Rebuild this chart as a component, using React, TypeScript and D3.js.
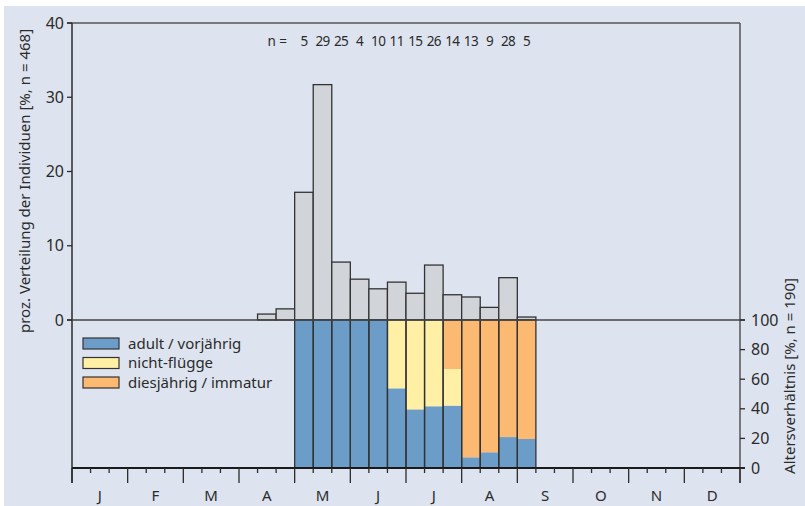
import { scaleLinear, stack } from "d3";

// month initials along the bottom axis, each month split into three decades
const months = ["J", "F", "M", "A", "M", "J", "J", "A", "S", "O", "N", "D"];

// upper histogram: % of individuals per decade, starting at April decade 2
const histStart = 10;
const pctIndividuals = [
  0.8, 1.5, 17.2, 31.7, 7.8, 5.5, 4.2, 5.1, 3.6, 7.4, 3.4, 3.1, 1.7, 5.7, 0.4,
];

// lower age ratio: starts at May decade 1
const ageStart = 12;
const nCounts = [5, 29, 25, 4, 10, 11, 15, 26, 14, 13, 9, 28, 5];
const adultPct = [100, 100, 100, 100, 100, 53.8, 39.6, 41.7, 42.1, 7.2, 10.6, 20.9, 19.6];
const fledglingPct = [0, 0, 0, 0, 0, 46.2, 60.4, 58.3, 24.8, 0, 0, 0, 0];
const juvenilePct = [0, 0, 0, 0, 0, 0, 0, 0, 33.1, 92.8, 89.4, 79.1, 80.4];

const leftTicks = [0, 10, 20, 30, 40];
const rightTicks = [0, 20, 40, 60, 80, 100];

const legendItems = [
  { key: "adult", label: "adult / vorjährig", color: "#6b9dc8" },
  { key: "fledgling", label: "nicht-flügge", color: "#fff0a5" },
  { key: "juvenile", label: "diesjährig / immatur", color: "#fbb971" },
];

const font = "'Noto Sans', sans-serif";
const ink = "#2b2b2b";

const App = () => {
  const width = 805;
  const height = 506;
  const left = 72;
  const right = 740;
  const top = 23;
  const zeroY = 320;
  const bottom = 468;

  const x = scaleLinear().domain([0, 36]).range([left, right]);
  const yTop = scaleLinear().domain([0, 40]).range([zeroY, top]);
  const yAge = scaleLinear().domain([0, 100]).range([bottom, zeroY]);

  const ageRows = nCounts.map((n, i) => ({
    idx: ageStart + i,
    n,
    adult: adultPct[i],
    fledgling: fledglingPct[i],
    juvenile: juvenilePct[i],
  }));
  const series = stack<any>().keys(legendItems.map((d) => d.key))(ageRows);

  const decadeTicks = Array.from({ length: 37 }, (_, i) => i);

  return (
    <svg
      width={width}
      height={height}
      style={{ position: "absolute", left: 0, top: 0 }}
      fontFamily={font}
    >
      <rect x={4} y={6} width={width - 4} height={height - 6} fill="#dde4ef" />

      {/* upper histogram */}
      {pctIndividuals.map((v, i) => (
        <rect
          key={`h-${i}`}
          x={x(histStart + i)}
          y={yTop(v)}
          width={x(1) - x(0)}
          height={zeroY - yTop(v)}
          fill="#d1d5da"
          stroke="#333"
          strokeWidth={1.3}
        />
      ))}

      {/* lower stacked age ratio */}
      {series.map((s, si) =>
        s.map((d: any, i: number) => (
          <rect
            key={`a-${si}-${i}`}
            x={x(d.data.idx)}
            y={yAge(d[1])}
            width={x(1) - x(0)}
            height={Math.max(0, yAge(d[0]) - yAge(d[1]))}
            fill={legendItems[si].color}
          />
        ))
      )}
      {ageRows.map((d) => (
        <rect
          key={`o-${d.idx}`}
          x={x(d.idx)}
          y={zeroY}
          width={x(1) - x(0)}
          height={bottom - zeroY}
          fill="none"
          stroke="#333"
          strokeWidth={1.3}
        />
      ))}

      {/* n labels */}
      <text x={287} y={46} fontSize={13.5} textAnchor="end" fill={ink}>
        n =
      </text>
      {ageRows.map((d) => (
        <text
          key={`n-${d.idx}`}
          x={x(d.idx + 0.5)}
          y={46}
          fontSize={13.5}
          textAnchor="middle"
          fill={ink}
          letterSpacing={-0.6}
        >
          {d.n}
        </text>
      ))}

      {/* frame lines */}
      <line x1={left - 5} x2={right} y1={top} y2={top} stroke="#555" strokeWidth={1.5} />
      <line x1={left} x2={left} y1={top} y2={483} stroke={ink} strokeWidth={1.5} />
      <line x1={right} x2={right} y1={top} y2={483} stroke="#555" strokeWidth={1.5} />
      <line x1={left - 5} x2={right + 5} y1={zeroY} y2={zeroY} stroke="#444" strokeWidth={1.3} />
      <line x1={left} x2={right + 5} y1={bottom} y2={bottom} stroke="#1a1a1a" strokeWidth={2.2} />

      {/* left axis */}
      {leftTicks.map((t) => (
        <g key={`lt-${t}`}>
          <line x1={left - 5} x2={left} y1={yTop(t)} y2={yTop(t)} stroke={ink} strokeWidth={1.3} />
          <text
            x={left - 8}
            y={yTop(t)}
            dy="0.35em"
            textAnchor="end"
            fontSize={16}
            fill={ink}
          >
            {t}
          </text>
        </g>
      ))}
      <text
        transform={`translate(30, 181) rotate(-90)`}
        textAnchor="middle"
        fontSize={15}
        fill={ink}
      >
        proz. Verteilung der Individuen [%, n = 468]
      </text>

      {/* right axis */}
      {rightTicks.map((t) => (
        <g key={`rt-${t}`}>
          <line x1={right} x2={right + 5} y1={yAge(t)} y2={yAge(t)} stroke={ink} strokeWidth={1.3} />
          <text
            x={right + 11}
            y={yAge(t)}
            dy="0.35em"
            textAnchor="start"
            fontSize={16}
            fill={ink}
          >
            {t}
          </text>
        </g>
      ))}
      <text
        transform={`translate(795, 376) rotate(-90)`}
        textAnchor="middle"
        fontSize={15}
        fill={ink}
      >
        Altersverhältnis [%, n = 190]
      </text>

      {/* bottom axis */}
      {decadeTicks.map((t) => (
        <line
          key={`bt-${t}`}
          x1={x(t)}
          x2={x(t)}
          y1={bottom}
          y2={t % 3 === 0 ? 483 : 473}
          stroke={ink}
          strokeWidth={1.3}
        />
      ))}
      {months.map((m, i) => (
        <text
          key={`m-${i}`}
          x={x(i * 3 + 1.5)}
          y={501}
          textAnchor="middle"
          fontSize={15}
          fill={ink}
        >
          {m}
        </text>
      ))}

      {/* legend */}
      {legendItems.map((d, i) => (
        <g key={d.key} transform={`translate(83, ${338 + i * 19.5})`}>
          <rect width={36} height={11} fill={d.color} stroke="#333" strokeWidth={1.2} />
          <text x={45} y={10.5} fontSize={15} fill={ink}>
            {d.label}
          </text>
        </g>
      ))}
    </svg>
  );
};

export default App;
